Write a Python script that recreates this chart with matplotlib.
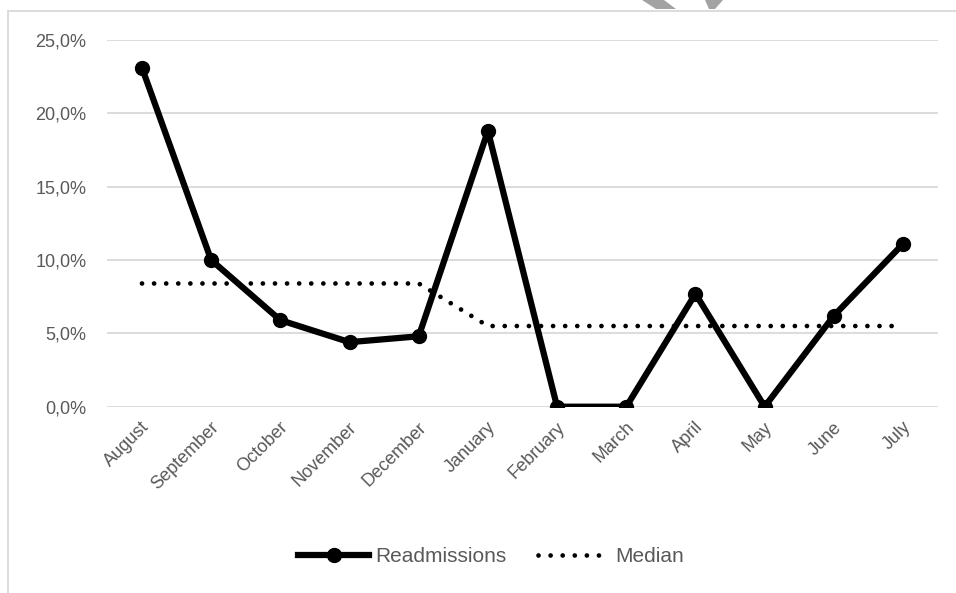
import matplotlib
matplotlib.use("Agg")
import matplotlib.pyplot as plt
from matplotlib.lines import Line2D
from matplotlib.patches import Polygon
from matplotlib.ticker import FuncFormatter
from matplotlib.transforms import ScaledTranslation

months = ["August", "September", "October", "November", "December", "January",
          "February", "March", "April", "May", "June", "July"]
readmissions = [23.1, 10.0, 5.9, 4.4, 4.8, 18.8, 0.0, 0.0, 7.7, 0.0, 6.2, 11.1]
median = [8.4, 8.4, 8.4, 8.4, 8.4, 5.5, 5.5, 5.5, 5.5, 5.5, 5.5, 5.5]
y_ticks = [0, 5, 10, 15, 20, 25]

plt.rcParams["font.family"] = ["Liberation Sans", "DejaVu Sans"]
TEXT = "#595959"
GRID = "#d9d9d9"
DOTS = (0, (0.01, 2.55))

W, H = 956, 593
fig = plt.figure(figsize=(W / 100, H / 100), dpi=100)
fig.patch.set_facecolor("white")

# outer chart frame (light grey, left and top edges visible)
fig.add_artist(Line2D([8 / W, 8 / W], [0, 1 - 11 / H], transform=fig.transFigure,
                      color=GRID, lw=1.3))
fig.add_artist(Line2D([8 / W, 1], [1 - 11 / H, 1 - 11 / H], transform=fig.transFigure,
                      color=GRID, lw=1.3))

# small grey shapes poking in above the frame
for pts in ([(642, 0), (664, 0), (676, 9), (656, 9)],
            [(705, 0), (723, 0), (715, 9), (709, 9)]):
    fig.add_artist(Polygon([(x / W, 1 - y / H) for x, y in pts], closed=True,
                           transform=fig.transFigure, facecolor="#a3a3a3",
                           edgecolor="none"))

left, right = 107.4 / W, 937.6 / W
bottom, top = 1 - 406.7 / H, 1 - 40 / H
ax = fig.add_axes([left, bottom, right - left, top - bottom])

x = list(range(len(months)))
ax.plot(x, median, color="black", lw=3.4, linestyle=DOTS,
        dash_capstyle="round", label="Median", zorder=3)
ax.plot(x, readmissions, color="black", lw=4.5, marker="o", markersize=10,
        solid_joinstyle="round", label="Readmissions", zorder=4)

ax.set_xlim(-0.5, len(months) - 0.5)
ax.set_ylim(0, 25)
ax.set_yticks(y_ticks)
ax.yaxis.set_major_formatter(FuncFormatter(lambda v, p: f"{v:.1f}%".replace(".", ",")))
ax.set_xticks(x)
ax.set_xticklabels(months, rotation=45, ha="right", va="center",
                   rotation_mode="anchor")
ax.tick_params(axis="both", length=0, colors=TEXT, labelsize=13)
ax.tick_params(axis="y", pad=15)
ax.tick_params(axis="x", pad=13)

# nudge the slanted month labels a little to the right
shift = ScaledTranslation(5 / 100, 0, fig.dpi_scale_trans)
for lab in ax.get_xticklabels():
    lab.set_transform(lab.get_transform() + shift)

ax.grid(axis="y", color=GRID, lw=1.3)
ax.set_axisbelow(True)
for s in ax.spines.values():
    s.set_visible(False)

handles = [
    Line2D([], [], color="black", lw=4.5, marker="o", markersize=10),
    Line2D([], [], color="black", lw=3.4, linestyle=DOTS, dash_capstyle="round"),
]
leg = fig.legend(handles, ["Readmissions", "Median"], ncol=2, loc="center",
                 bbox_to_anchor=(491 / W, 1 - 557 / H), frameon=False,
                 fontsize=15, handlelength=3.4, handletextpad=0.3,
                 columnspacing=1.5)
for t in leg.get_texts():
    t.set_color(TEXT)

fig.savefig("out.png", dpi=100, facecolor="white")
